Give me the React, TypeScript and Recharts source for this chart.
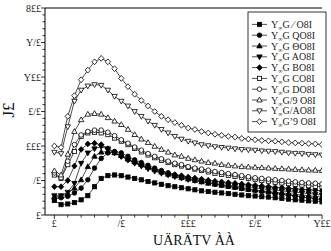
import React from 'react';
import { LineChart, Line, XAxis, YAxis } from 'recharts';

const xValues = [0, 5, 10, 15, 20, 25, 30, 35, 40, 45, 50, 55, 60, 65, 70, 75, 80, 85, 90, 95, 100, 105, 110, 115, 120, 125, 130, 135, 140, 145, 150, 155, 160, 165, 170, 175, 180, 185, 190, 195, 200];

const s1 = [21, 15, 16, 18, 22, 28, 41, 53, 57, 58, 57, 55, 53, 51, 48.5, 46.5, 44.5, 42.5, 41, 39.5, 38, 36.5, 35, 34, 33, 32, 31, 30, 29, 28, 27.5, 26.5, 26, 25, 24, 23, 22, 21.5, 20.5, 20, 19];
const s2 = [24, 25, 27, 32, 39, 51, 68, 82, 90, 92, 90, 85, 80, 76, 72, 68, 64.5, 61, 58, 55.5, 53, 51, 49, 47, 45, 43, 41.5, 40, 38.5, 37, 35.5, 34, 33, 31.5, 30, 29, 27.5, 26, 25, 23.5, 22];
const s3 = [26, 27, 31, 39, 51, 70, 85, 91, 92, 90, 86, 81, 77, 73, 69, 65.5, 62, 59, 56.5, 54, 52, 50, 48, 46, 44.5, 43, 41.5, 40, 38.5, 37, 36, 35, 34, 33, 32, 31, 30, 29, 28, 27, 26];
const s4 = [28, 28, 33, 46, 75, 90, 96, 99, 96, 90, 85, 80, 75, 71, 67, 63.5, 60.5, 58, 55.5, 53.5, 51.5, 50, 48.5, 47, 45.5, 44, 43, 42, 41, 40, 39, 38, 37, 36, 35, 34, 33, 32, 31, 30, 29];
const s5 = [41, 41, 50, 71, 95, 103, 104, 102, 96, 91, 85, 80, 76, 72, 69, 65.5, 63, 60.5, 58.5, 57, 55, 53.5, 52, 50.5, 49, 48, 47, 46, 45, 44, 43, 42, 41, 40, 39.5, 38.5, 38, 37, 36.5, 36, 35];
const s6 = [58, 53, 73, 92, 114, 119, 120, 119, 116.5, 111.5, 107, 102, 96.5, 91.5, 87, 83, 79, 76, 73, 71, 69, 66.5, 64.5, 62.5, 60.5, 59, 57.5, 56, 54.5, 53, 51.5, 50, 49, 47.5, 46.5, 45.5, 44.5, 43.5, 42.5, 41.5, 41];
const s7 = [61, 54, 78, 102, 116, 121, 123, 123, 120, 115, 109, 104, 98.5, 94, 89, 85, 81.5, 78, 75, 73, 70, 68, 66.5, 65, 63, 61.5, 60, 58.5, 57, 55.5, 54, 53, 52, 51, 50, 49, 48, 47, 46.5, 46, 45];
const s8 = [64, 58, 88, 121, 138, 146, 147, 146, 141, 136, 131, 124, 116.5, 110, 105, 99.5, 95, 91, 87, 85, 82, 80, 78, 76, 75, 73, 72, 71, 70, 69.5, 69, 68.5, 68, 67.5, 67, 66.5, 66, 65.5, 65, 64.8, 64.5];
const s9 = [91, 89, 128, 165, 181, 187, 189, 188, 181, 172, 165, 158, 150, 143, 136, 130, 124, 119, 114, 110, 107, 104.5, 102, 100.5, 99, 98, 97, 96, 95, 94.5, 94, 93, 92.5, 92, 91, 90, 89.5, 89, 88, 87.5, 87];
const s10 = [100, 98, 143, 173, 196, 210, 222, 227, 222, 212, 198, 186, 175, 166, 158, 150, 143, 138, 134, 130, 126, 124, 121, 119, 117, 115.5, 114, 113, 111, 110, 109, 108, 107.5, 107, 106, 105, 104.5, 104, 103.5, 103, 102];

const seriesValues = [s1, s2, s3, s4, s5, s6, s7, s8, s9, s10];
const seriesCodes = [' \u2044 ', ' Q', ' \u0398', ' A', ' B', ' C', ' D', '/9 ', '/A', '\u20199 '];
const markerShapes = ['square', 'circle', 'triUp', 'triDown', 'diamond', 'square', 'circle', 'triUp', 'triDown', 'diamond'];
const markerFilled = [true, true, true, true, true, false, false, false, false, false];

const xTicks = [0, 10, 20, 30, 40, 50, 60, 70, 80, 90, 100, 110, 120, 130, 140, 150, 160, 170, 180, 190, 200];
const xMajor = [0, 50, 100, 150, 200];
const xTickLabels = ['\u00a3', '/\u00a3', '\u00a3\u00a3\u00a3', '\u00a3/\u00a3', 'Y\u00a3\u00a3'];
const yTicks = [0, 10, 20, 30, 40, 50, 60, 70, 80, 90, 100, 110, 120, 130, 140, 150, 160, 170, 180, 190, 200, 210, 220, 230, 240, 250, 260, 270, 280, 290, 300];
const yMajor = [0, 50, 100, 150, 200, 250, 300];
const yTickLabels = ['\u00a3', '/\u00a3', '\u00a3\u00a3\u00a3', '\u00a3/\u00a3', 'Y\u00a3\u00a3', 'Y/\u00a3', '8\u00a3\u00a3'];
const yTitle = 'J\u00a3';
const xTitle = 'U\u00c4R\u00c4TV \u00c0\u00c0';

const data = xValues.map((x, i) => {
  const row: any = { x };
  seriesValues.forEach((s, k) => { row['s' + (k + 1)] = s[i]; });
  return row;
});

const FONT = '"Liberation Serif", "DejaVu Serif", serif';

function Marker({ cx, cy, shape, filled }: any) {
  const fill = filled ? '#000' : '#fff';
  const st = { fill, stroke: '#000', strokeWidth: 0.8 };
  if (cx == null || cy == null) return null;
  switch (shape) {
    case 'square':
      return <rect x={cx - 2.1} y={cy - 2.1} width={4.2} height={4.2} {...st} />;
    case 'circle':
      return <circle cx={cx} cy={cy} r={2.3} {...st} />;
    case 'triUp':
      return <polygon points={`${cx},${cy - 2.9} ${cx - 2.7},${cy + 1.9} ${cx + 2.7},${cy + 1.9}`} {...st} />;
    case 'triDown':
      return <polygon points={`${cx},${cy + 2.9} ${cx - 2.7},${cy - 1.9} ${cx + 2.7},${cy - 1.9}`} {...st} />;
    default:
      return <polygon points={`${cx},${cy - 2.9} ${cx + 2.7},${cy} ${cx},${cy + 2.9} ${cx - 2.7},${cy}`} {...st} />;
  }
}

function XTick(props: any) {
  const { x, y, payload } = props;
  const v = payload.value;
  const idx = xMajor.indexOf(v);
  const major = idx >= 0;
  return (
    <g>
      <line x1={x} x2={x} y1={y} y2={y + (major ? 4 : 2.5)} stroke="#000" strokeWidth={0.8} />
      {major && (
        <text x={x} y={y + 12} textAnchor="middle" fontSize={10} fontFamily={FONT} fill="#222">
          {xTickLabels[idx]}
        </text>
      )}
    </g>
  );
}

function YTick(props: any) {
  const { x, y, payload } = props;
  const v = payload.value;
  const idx = yMajor.indexOf(v);
  const major = idx >= 0;
  return (
    <g>
      <line x1={x - (major ? 4 : 2.5)} x2={x} y1={y} y2={y} stroke="#000" strokeWidth={0.8} />
      {major && (
        <text x={x - 4} y={y + 3.5} textAnchor="end" fontSize={10} fontFamily={FONT} fill="#222">
          {yTickLabels[idx]}
        </text>
      )}
    </g>
  );
}

export default function App() {
  const legendX = 248;
  const legendY = 12;
  const rowH = 10.8;
  return (
    <div style={{ position: 'absolute', left: 0, top: 0, width: 331, height: 251, background: '#fff' }}>
      <LineChart width={331} height={251} data={data} margin={{ top: 8, right: 9, bottom: 0, left: 0 }}>
        <XAxis
          dataKey="x"
          type="number"
          domain={[-7, 200]}
          ticks={xTicks}
          interval={0}
          tickSize={0}
          tickMargin={0}
          tickLine={false}
          tick={(p: any) => <XTick {...p} />}
          height={36}
          stroke="#000"
          allowDataOverflow
        />
        <YAxis
          type="number"
          domain={[0, 300]}
          ticks={yTicks}
          interval={0}
          tickSize={0}
          tickMargin={0}
          tickLine={false}
          tick={(p: any) => <YTick {...p} />}
          width={45}
          stroke="#000"
          allowDataOverflow
        />
        {seriesValues.map((_, k) => (
          <Line
            key={k}
            type="linear"
            dataKey={'s' + (k + 1)}
            stroke="#222"
            strokeWidth={0.8}
            isAnimationActive={false}
            activeDot={false}
            dot={(p: any) => (
              <Marker key={'d' + k + '-' + p.index} cx={p.cx} cy={p.cy} shape={markerShapes[k]} filled={markerFilled[k]} />
            )}
          />
        ))}
      </LineChart>
      <svg width={331} height={251} style={{ position: 'absolute', left: 0, top: 0, pointerEvents: 'none' }}>
        <line x1={45} x2={322} y1={8} y2={8} stroke="#000" strokeWidth={1} />
        <text
          x={14}
          y={110}
          transform="rotate(-90 14 110)"
          textAnchor="middle"
          fontSize={17}
          fontFamily={FONT}
          fill="#111"
        >
          {yTitle}
        </text>
        <text x={194} y={245} textAnchor="middle" fontSize={14} fontFamily={FONT} fill="#111">
          {xTitle}
        </text>
        <rect x={legendX} y={legendY} width={78} height={120} fill="#fff" stroke="#000" strokeWidth={0.8} />
        {seriesCodes.map((code, k) => {
          const cy = legendY + 7 + rowH * k + rowH / 2;
          return (
            <g key={k}>
              <line x1={252} x2={267} y1={cy} y2={cy} stroke="#222" strokeWidth={0.8} />
              <Marker cx={259.5} cy={cy} shape={markerShapes[k]} filled={markerFilled[k]} />
              <text x={271} y={cy + 3.5} fontSize={10} fontFamily={FONT} fill="#222">
                Y
                <tspan fontSize={6} dy={2}>
                  {'\u221e'}
                </tspan>
                <tspan dy={-2}>{'G' + code + 'O8I'}</tspan>
              </text>
            </g>
          );
        })}
      </svg>
    </div>
  );
}
